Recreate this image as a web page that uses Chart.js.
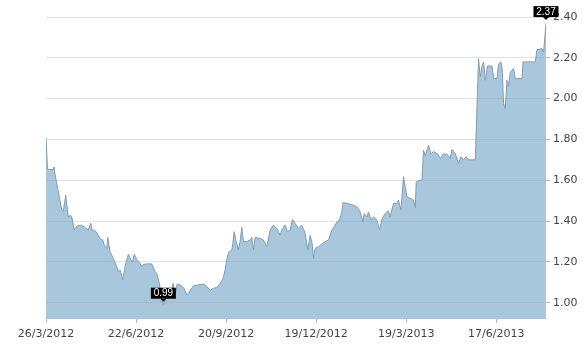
<!DOCTYPE html>
<html>
<head>
<meta charset="utf-8">
<script src="https://cdn.jsdelivr.net/npm/chart.js@4/dist/chart.umd.min.js"></script>
<style>
  html, body { margin: 0; padding: 0; background: #ffffff; }
  #wrap { width: 585px; height: 346px; }
</style>
</head>
<body>
<div id="wrap"><canvas id="c" width="585" height="346"></canvas></div>
<script>
// x positions in chart day-units (ticks every 90 units)
const day = [
  0, 1.5, 7, 8, 9, 15.7, 17.3, 19.7, 22.3, 24.7, 26.3, 28, 30.7, 35.7, 40, 42.3, 44.7, 46.3, 48.3, 51.3,
  54, 56.7, 58.3, 60.7, 61.7, 64, 67.3, 70.7, 72.3, 74, 76.7, 79, 82.3, 84.7, 86.3, 88.3, 90.7, 94, 95.7, 97.3,
  100.7, 105.7, 109, 110.7, 113.3, 115.7, 117.3, 119, 120.7, 122, 125, 127, 129, 131, 134, 136, 138, 140.7, 142.3, 144,
  147.3, 152, 157.3, 160.7, 164, 167.3, 170.7, 174, 176.7, 178.3, 180.7, 182.3, 185.7, 186.7, 188, 190, 192.3, 194, 195.7, 197.3,
  200.7, 204, 205.7, 207.3, 209, 214, 217.3, 220.7, 224, 227.3, 230.7, 234, 235.7, 239, 241.3, 244, 246.3, 249, 252.3, 255.7,
  259, 261.7, 264, 266, 267.3, 269, 272.3, 277.3, 282.3, 285.7, 289, 290.7, 293.3, 295.7, 296.7, 300.7, 305.7, 310.7, 314, 316.7,
  318, 320.7, 322.3, 324.7, 327.3, 330.7, 333.3, 335.7, 339, 342.3, 344, 347.3, 350.7, 352.3, 354.7, 357.3, 359, 360.7, 364, 367.3,
  369, 370, 374, 375.7, 377.3, 379, 382.3, 384.7, 387.3, 391.3, 394, 397.3, 400.7, 404, 405.7, 409, 412.3, 414.7, 417.3, 420,
  422.3, 429, 432.3, 434, 435.7, 437.3, 439, 441.3, 445.7, 447.3, 450.7, 452.3, 454.7, 456, 457.3, 459, 460.7, 462.3, 464, 467.3,
  469, 475.7, 476.7, 489, 490.7, 495.7, 497.3, 499.7
];
const price = [
  1.81, 1.653, 1.653, 1.665, 1.63, 1.454, 1.447, 1.527, 1.42, 1.428, 1.41, 1.356, 1.375, 1.38, 1.364, 1.356, 1.389, 1.352, 1.356, 1.34,
  1.315, 1.307, 1.282, 1.266, 1.32, 1.25, 1.217, 1.176, 1.152, 1.16, 1.111, 1.176, 1.237, 1.21, 1.20, 1.237, 1.21, 1.193, 1.176, 1.187,
  1.19, 1.19, 1.152, 1.144, 1.095, 1.013, 0.99, 1.013, 1.03, 1.035, 1.04, 1.095, 1.03, 1.09, 1.087, 1.08, 1.07, 1.038, 1.045, 1.06,
  1.082, 1.087, 1.091, 1.08, 1.06, 1.07, 1.075, 1.091, 1.119, 1.144, 1.209, 1.245, 1.258, 1.29, 1.348, 1.30, 1.258, 1.30, 1.369, 1.30,
  1.299, 1.307, 1.32, 1.258, 1.32, 1.315, 1.307, 1.274, 1.356, 1.38, 1.364, 1.331, 1.356, 1.38, 1.348, 1.356, 1.408, 1.389, 1.364, 1.38,
  1.34, 1.258, 1.33, 1.29, 1.217, 1.266, 1.274, 1.295, 1.307, 1.356, 1.38, 1.396, 1.405, 1.445, 1.49, 1.487, 1.48, 1.47, 1.445, 1.396,
  1.437, 1.42, 1.445, 1.405, 1.42, 1.405, 1.356, 1.41, 1.437, 1.45, 1.42, 1.487, 1.487, 1.503, 1.454, 1.617, 1.568, 1.519, 1.511, 1.503,
  1.467, 1.592, 1.60, 1.60, 1.747, 1.72, 1.772, 1.73, 1.74, 1.73, 1.707, 1.73, 1.727, 1.707, 1.751, 1.73, 1.682, 1.715, 1.70, 1.715,
  1.70, 1.70, 2.196, 2.106, 2.16, 2.18, 2.09, 2.16, 2.16, 2.098, 2.098, 2.17, 2.18, 2.14, 1.976, 1.952, 2.09, 2.06, 2.131, 2.147,
  2.098, 2.098, 2.18, 2.18, 2.24, 2.245, 2.228, 2.37
];
const tickDays = [0, 90, 180, 270, 360, 450];
const tickLabels = ['26/3/2012', '22/6/2012', '20/9/2012', '19/12/2012', '19/3/2013', '17/6/2013'];
const yTicks = [1.00, 1.20, 1.40, 1.60, 1.80, 2.00, 2.20, 2.40];

const flagPlugin = {
  id: 'flags',
  afterDraw(chart) {
    const meta = chart.getDatasetMeta(0);
    let iMin = 0, iMax = 0;
    price.forEach((v, i) => { if (v < price[iMin]) iMin = i; if (v > price[iMax]) iMax = i; });
    const ctx = chart.ctx;
    [iMin, iMax].forEach(i => {
      const pt = meta.data[i];
      const txt = price[i].toFixed(2);
      ctx.save();
      ctx.font = '10px "Liberation Sans", Arial, sans-serif';
      const w = Math.round(ctx.measureText(txt).width) + 6;
      const h = 11;
      const bottom = pt.y - 6;
      const left = pt.x - w / 2;
      ctx.fillStyle = '#000000';
      ctx.fillRect(left, bottom - h, w, h);
      ctx.beginPath();
      ctx.moveTo(pt.x - 3, bottom);
      ctx.lineTo(pt.x + 3, bottom);
      ctx.lineTo(pt.x, bottom + 3);
      ctx.closePath();
      ctx.fill();
      ctx.fillStyle = '#ffffff';
      ctx.textAlign = 'center';
      ctx.textBaseline = 'middle';
      ctx.fillText(txt, pt.x, bottom - h / 2 + 0.5);
      ctx.restore();
    });
  }
};

new Chart(document.getElementById('c'), {
  type: 'line',
  data: {
    datasets: [{
      data: day.map((d, i) => ({ x: d, y: price[i] })),
      borderColor: '#7f9db3',
      borderWidth: 1,
      backgroundColor: 'rgba(110,160,196,0.6)',
      fill: 'start',
      pointRadius: 0,
      tension: 0
    }]
  },
  options: {
    responsive: false,
    animation: false,
    layout: { padding: { left: 46, top: 17, right: 0, bottom: 0 } },
    plugins: { legend: { display: false }, tooltip: { enabled: false } },
    scales: {
      x: {
        type: 'linear',
        min: 0,
        max: 499.7,
        afterBuildTicks: s => { s.ticks = tickDays.map(v => ({ value: v })); },
        afterFit: s => { s.height = 27; },
        ticks: {
          autoSkip: false,
          maxRotation: 0,
          padding: 5,
          color: '#444',
          font: { family: 'DejaVu Sans', size: 11 },
          callback: (v, i) => tickLabels[i]
        },
        grid: { drawOnChartArea: false, drawTicks: true, tickLength: 4, tickColor: '#b5b5b5' },
        border: { display: false }
      },
      y: {
        position: 'right',
        min: 0.92,
        max: 2.40,
        afterBuildTicks: s => { s.ticks = yTicks.map(v => ({ value: v })); },
        afterFit: s => { s.width = 39; },
        ticks: {
          padding: 3,
          color: '#444',
          font: { family: 'DejaVu Sans', size: 11 },
          callback: v => Number(v).toFixed(2)
        },
        grid: { color: '#e3e3e3', lineWidth: 1, tickLength: 4, tickColor: '#b5b5b5' },
        border: { display: false }
      }
    }
  },
  plugins: [flagPlugin]
});
</script>
</body>
</html>
